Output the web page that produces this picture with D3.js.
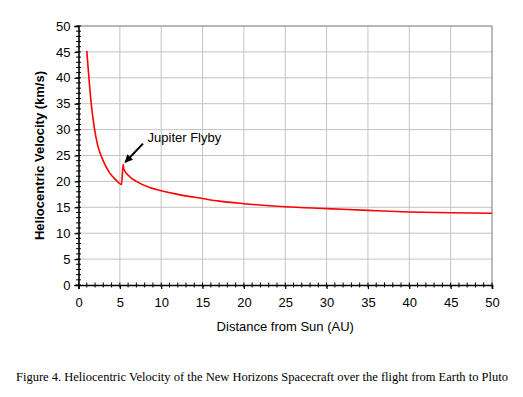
<!DOCTYPE html>
<meta charset="utf-8" />
<script src="https://d3js.org/d3.v7.min.js"></script>
<style>
  body { margin: 0; background: #fff; }
  text { font-family: "Liberation Sans", Arial, sans-serif; }
</style>
<body>
  <div id="chart"></div>
  <script>
    // distance from sun (AU) and heliocentric velocity (km/s)
    var distance = [1.0, 1.2, 1.5, 1.9, 2.3, 2.9, 3.7, 4.5, 5.2, 5.4, 5.47, 6.2, 7.0, 8.6, 10, 12, 15, 17, 20, 25, 30, 35, 40, 45, 50];
    var velocity = [45.2, 41.2, 35.6, 30.5, 27.1, 24.3, 21.8, 20.3, 19.4, 23.3, 22.4, 20.9, 20.0, 18.8, 18.2, 17.5, 16.7, 16.2, 15.7, 15.1, 14.75, 14.4, 14.1, 13.95, 13.85];
    var xTicks = [0, 5, 10, 15, 20, 25, 30, 35, 40, 45, 50];
    var yTicks = [0, 5, 10, 15, 20, 25, 30, 35, 40, 45, 50];

    var width = 523, height = 397;
    var margin = { top: 26, right: 31, bottom: 112, left: 78.5 };
    var w = width - margin.left - margin.right,
      h = height - margin.top - margin.bottom;

    var svg = d3.select("#chart").append("svg")
      .attr("width", width)
      .attr("height", height);

    var g = svg.append("g")
      .attr("transform", "translate(" + margin.left + "," + margin.top + ")");

    var x = d3.scaleLinear().domain([0, 50]).range([0, w]);
    var y = d3.scaleLinear().domain([0, 50]).range([h, 0]);

    // gridlines
    g.append("g").selectAll("line").data(xTicks.slice(1, -1)).enter().append("line")
      .attr("x1", function (d) { return x(d); }).attr("x2", function (d) { return x(d); })
      .attr("y1", 0).attr("y2", h)
      .attr("stroke", "#c4c4c4").attr("stroke-width", 1);
    g.append("g").selectAll("line").data(yTicks.slice(1)).enter().append("line")
      .attr("y1", function (d) { return y(d); }).attr("y2", function (d) { return y(d); })
      .attr("x1", 0).attr("x2", w)
      .attr("stroke", "#c4c4c4").attr("stroke-width", 1);

    // plot border (top, right)
    g.append("line").attr("x1", 0).attr("x2", w).attr("y1", 0).attr("y2", 0)
      .attr("stroke", "#8c8c8c").attr("stroke-width", 1.2);
    g.append("line").attr("x1", w).attr("x2", w).attr("y1", 0).attr("y2", h)
      .attr("stroke", "#8c8c8c").attr("stroke-width", 1.2);

    // minor ticks
    var minor = d3.range(0, 51, 1);
    g.append("g").selectAll("line").data(minor).enter().append("line")
      .attr("x1", function (d) { return x(d); }).attr("x2", function (d) { return x(d); })
      .attr("y1", h - 2.5).attr("y2", h + 2.5)
      .attr("stroke", "#000").attr("stroke-width", 1);
    g.append("g").selectAll("line").data(minor).enter().append("line")
      .attr("y1", function (d) { return y(d); }).attr("y2", function (d) { return y(d); })
      .attr("x1", -2.5).attr("x2", 2.5)
      .attr("stroke", "#000").attr("stroke-width", 1);

    // axes
    var xAxis = g.append("g")
      .attr("transform", "translate(0," + h + ")")
      .call(d3.axisBottom(x).tickValues(xTicks).tickSize(4).tickPadding(9));
    var yAxis = g.append("g")
      .call(d3.axisLeft(y).tickValues(yTicks).tickSize(4).tickPadding(4));
    [xAxis, yAxis].forEach(function (a) {
      a.select(".domain").attr("stroke", "#000").attr("stroke-width", 1.6);
      a.selectAll(".tick line").attr("stroke", "#000").attr("stroke-width", 1.2);
      a.selectAll("text").attr("font-size", 13).attr("fill", "#000")
        .attr("font-family", "Liberation Sans, Arial, sans-serif");
    });

    // curve
    var pts = distance.map(function (d, i) { return [d, velocity[i]]; });
    g.append("path")
      .datum(pts)
      .attr("fill", "none")
      .attr("stroke", "#ff0000")
      .attr("stroke-width", 1.6)
      .attr("d", d3.line()
        .x(function (d) { return x(d[0]); })
        .y(function (d) { return y(d[1]); })
        .curve(d3.curveMonotoneX));

    // annotation
    svg.append("defs").append("marker")
      .attr("id", "arr").attr("viewBox", "0 0 10 10")
      .attr("refX", 9).attr("refY", 5)
      .attr("markerWidth", 4).attr("markerHeight", 4)
      .attr("orient", "auto")
      .append("path").attr("d", "M0,0L10,5L0,10z").attr("fill", "#000");
    g.append("line")
      .attr("x1", x(7.8)).attr("y1", y(27.3))
      .attr("x2", x(5.65)).attr("y2", y(23.7))
      .attr("stroke", "#000").attr("stroke-width", 2)
      .attr("marker-end", "url(#arr)");
    g.append("text")
      .attr("x", x(8.35)).attr("y", y(27.6))
      .attr("font-size", 13)
      .text("Jupiter Flyby");

    // axis titles
    svg.append("text")
      .attr("x", margin.left + w / 2).attr("y", 331)
      .attr("text-anchor", "middle").attr("font-size", 13)
      .text("Distance from Sun (AU)");
    svg.append("text")
      .attr("transform", "translate(44," + (margin.top + h / 2) + ") rotate(-90)")
      .attr("text-anchor", "middle").attr("font-size", 13).attr("font-weight", "bold")
      .text("Heliocentric Velocity (km/s)");

    // caption
    svg.append("text")
      .attr("x", 262).attr("y", 381)
      .attr("text-anchor", "middle")
      .attr("font-size", 12.5)
      .style("font-family", "Liberation Serif, Times New Roman, serif")
      .text("Figure 4. Heliocentric Velocity of the New Horizons Spacecraft over the flight from Earth to Pluto");
  </script>
</body>
